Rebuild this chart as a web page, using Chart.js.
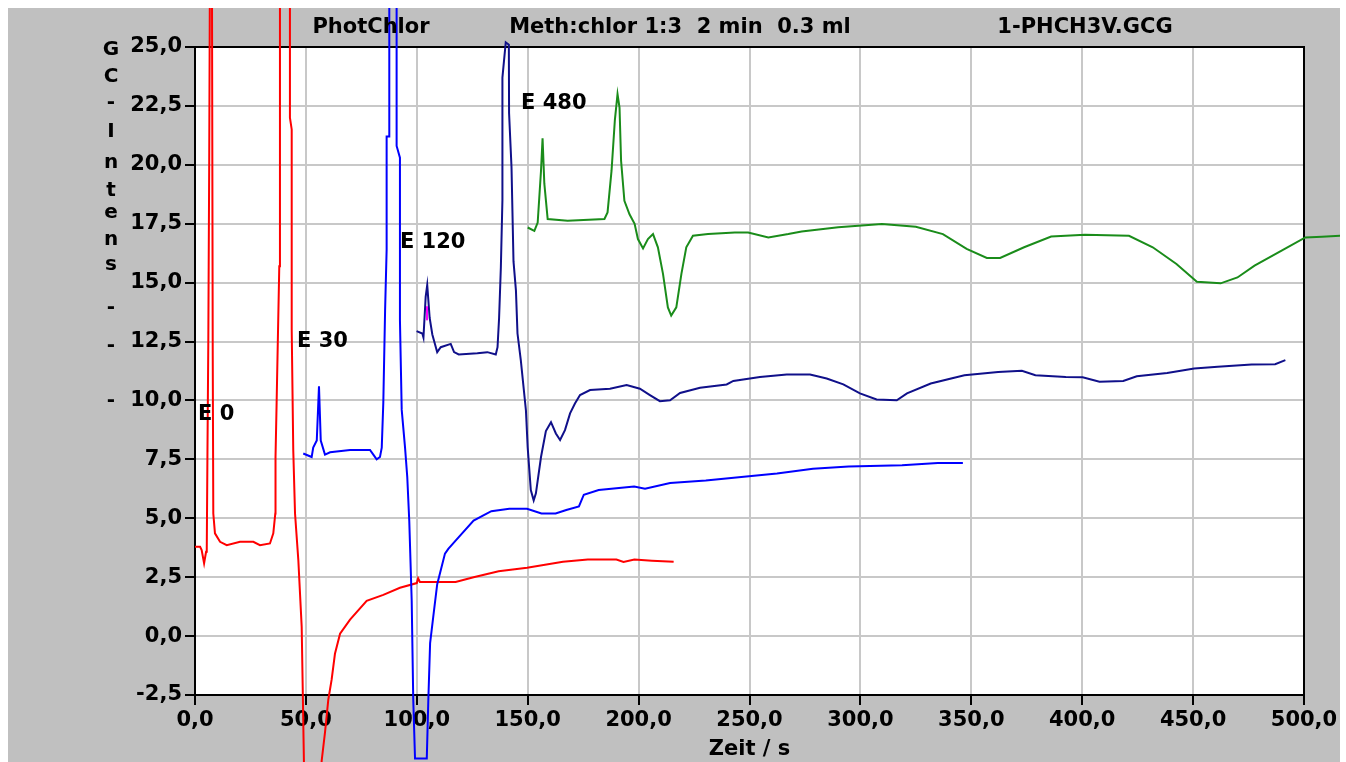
<!DOCTYPE html>
<html lang="de">
<head>
  <meta charset="UTF-8">
  <title>PhotChlor GC</title>
  <style>
    body { margin: 0; background: #fff; }
    canvas { display: block; }
  </style>
</head>
<body>
<canvas id="gcChart" width="1346" height="762"></canvas>

<script src="https://cdn.jsdelivr.net/npm/chart.js"></script>
<script>
  // curves as [zeit, intensitaet]
  const e0 = [
    [0, 3.79], [2.3, 3.79], [3, 3.65], [4.1, 3.09], [5, 3.58], [5.3, 3.6], [5.6, 7.6], [6.0, 12.5],
    [6.4, 20], [6.8, 30], [7.6, 30], [8.0, 11.9], [8.25, 5.2], [9, 4.36], [11.3, 4.0], [14.3, 3.86],
    [20.3, 4.0], [26.3, 4.0], [29.3, 3.86], [33.8, 3.93], [35.3, 4.36], [36.2, 5.2], [36.3, 7.6],
    [36.8, 9.9], [38, 15.7], [38.3, 30], [42.8, 30], [42.8, 22.0], [43.6, 21.5], [43.6, 13.0],
    [44.3, 7.9], [45.1, 5.2], [46.6, 3.2], [48.1, 0.4], [48.6, -2.4], [49.4, -7], [50, -9],
    [56.5, -9], [57.1, -5.3], [58.6, -4.1], [60.1, -2.7], [61.6, -1.85], [63.1, -0.75], [65.4, 0.1],
    [69.9, 0.7], [77.4, 1.5], [84.9, 1.75], [92.4, 2.05], [100, 2.25], [100.6, 2.45], [101.4, 2.3],
    [117.5, 2.3], [125.6, 2.5], [136.9, 2.75], [149.7, 2.9], [165.9, 3.15], [177.1, 3.25],
    [190, 3.25], [193.2, 3.15], [198.1, 3.25], [206, 3.2], [215.8, 3.15]
  ];
  const e30 = [
    [48.8, 7.75], [52.6, 7.6], [53.3, 8.0], [54.9, 8.3], [55.9, 10.6], [56.7, 8.3], [58.6, 7.7],
    [60.9, 7.8], [69.9, 7.9], [78.9, 7.9], [80.4, 7.7], [81.9, 7.5], [83.4, 7.6], [84.2, 8.0],
    [84.9, 9.9], [85.7, 13.8], [86.4, 16.4], [86.4, 21.2], [87.6, 21.2], [87.6, 30], [90.9, 30],
    [90.9, 20.8], [92.4, 20.3], [92.4, 13.4], [93.2, 9.6], [94.7, 8.0], [95.7, 6.75], [96.6, 4.9],
    [97.7, 1.5], [98.4, -2.7], [99.2, -5.2], [104.5, -5.2], [105.2, -2.7], [106, -0.3], [107.4, 0.8],
    [109.2, 2.2], [112.7, 3.5], [114.2, 3.7], [117.5, 4.05], [125.6, 4.9], [133.6, 5.3], [141.7, 5.4],
    [149.7, 5.4], [156.2, 5.2], [162.6, 5.2], [167.4, 5.35], [173.1, 5.5], [175.3, 6.0], [182, 6.2],
    [198, 6.35], [202.9, 6.25], [214.2, 6.5], [230.3, 6.6], [246.3, 6.75], [262.4, 6.9],
    [278.6, 7.1], [294.7, 7.2], [318.8, 7.25], [334.9, 7.35], [346.2, 7.35]
  ];
  const e120 = [
    [99.9, 12.94], [102.5, 12.84], [103, 12.67], [104, 14.4], [104.7, 14.9], [105.8, 13.5], [107, 12.8],
    [109.2, 12.05], [110.8, 12.26], [115.3, 12.4], [116.8, 12.05], [118.9, 11.95], [127.3, 12.0],
    [131.8, 12.05], [135.6, 11.95], [136.4, 12.26], [137.1, 13.5], [137.9, 15.65], [138.6, 18.5],
    [138.6, 23.7], [140.1, 25.2], [141.5, 25.1], [141.6, 22.2], [142.7, 19.9], [143.6, 15.9],
    [144.7, 14.66], [145.4, 12.84], [146.9, 11.7], [149.2, 9.58], [150, 8.0], [151.4, 6.2],
    [152.7, 5.76], [153.7, 6.06], [156, 7.6], [158.2, 8.7], [160.5, 9.08], [162.7, 8.6], [164.6, 8.32],
    [166.8, 8.74], [169.1, 9.45], [171.3, 9.87], [173.6, 10.23], [178.1, 10.44], [187.1, 10.5],
    [194.6, 10.65], [200.6, 10.5], [205.1, 10.23], [209.6, 9.97], [214.2, 10.01], [218.7, 10.32],
    [227.7, 10.54], [239.7, 10.68], [242.7, 10.83], [254.7, 11.0], [266.8, 11.1], [277.3, 11.1],
    [284.8, 10.93], [292.3, 10.68], [299.8, 10.3], [307.3, 10.04], [316.4, 10.01], [321, 10.3],
    [331.7, 10.72], [346.9, 11.07], [362.1, 11.21], [372.8, 11.26], [378.9, 11.07], [392.6, 11.0],
    [400.2, 10.98], [407.8, 10.79], [418.5, 10.83], [424.6, 11.03], [438.3, 11.17], [450.5, 11.36],
    [461.1, 11.43], [476.4, 11.53], [487, 11.54], [491.6, 11.71]
  ];
  const e480 = [
    [150, 17.34], [153, 17.2], [154.5, 17.55], [156, 19.75], [156.7, 21.13], [157.5, 19.2], [159, 17.7],
    [168, 17.63], [184.6, 17.7], [186, 17.98], [187.8, 19.75], [189.3, 21.9], [190.5, 23.0],
    [191.4, 22.43], [192.1, 20.17], [193.6, 18.47], [195.9, 17.9], [198.2, 17.5], [199.7, 16.85],
    [202, 16.45], [204.2, 16.85], [206.5, 17.06], [208.7, 16.5], [211, 15.37], [213.2, 13.95],
    [214.7, 13.6], [217, 13.95], [219.3, 15.37], [221.5, 16.5], [224.5, 16.99], [231.3, 17.06],
    [243.4, 17.13], [249.4, 17.13], [258.5, 16.92], [267.5, 17.06], [273.5, 17.17], [290, 17.35],
    [309.7, 17.49], [325, 17.37], [337.2, 17.06], [347.9, 16.43], [357, 16.05], [363, 16.05],
    [373.8, 16.5], [386, 16.96], [401.2, 17.03], [421.1, 16.99], [431.8, 16.5], [442.5, 15.79],
    [451.7, 15.04], [462.4, 14.97], [470, 15.22], [477.7, 15.72], [489.9, 16.36], [500.6, 16.92],
    [508.1, 16.95], [517.3, 16.99]
  ];
  const mark = [[104.6, 13.4], [104.6, 14.0]];

  const curveNames = ['E 0', 'E 30', 'E 120', 'E 480'];
  const curveLabelX = [1.35, 46, 92.4, 147];
  const curveLabelY = [9.4, 12.5, 16.7, 22.6];

  const headTexts = ['PhotChlor', 'Meth:chlor 1:3  2 min  0.3 ml', '1-PHCH3V.GCG'];
  const headCenters = [371, 680, 1085];

  const yTitleChars = ['G', 'C', '-', 'I', 'n', 't', 'e', 'n', 's', '-', '-', '-'];
  const yTitleBase = [55, 82, 108, 137, 168, 196, 218, 245, 270, 313, 351, 406];

  const FONT = '"DejaVu Sans", sans-serif';
  const fmt = v => Number(v).toFixed(1).replace('.', ',');
  const pts = arr => arr.map(([x, y]) => ({ x, y }));

  const clipBox = { left: 187, top: 39, right: 36, bottom: 67 };

  const decor = {
    id: 'decor',
    beforeDraw(c) {
      const ctx = c.ctx, a = c.chartArea;
      ctx.save();
      ctx.fillStyle = '#fff';
      ctx.fillRect(0, 0, c.width, c.height);
      ctx.fillStyle = '#c0c0c0';
      ctx.fillRect(8, 8, 1332, 754);
      ctx.fillStyle = '#fff';
      ctx.fillRect(a.left, a.top, a.right - a.left, a.bottom - a.top);
      ctx.restore();
    },
    beforeDatasetsDraw(c) {
      const ctx = c.ctx, a = c.chartArea;
      ctx.save();
      ctx.strokeStyle = '#000';
      ctx.lineWidth = 2;
      ctx.strokeRect(a.left, a.top, a.right - a.left, a.bottom - a.top);
      ctx.restore();
    },
    afterDraw(c) {
      const ctx = c.ctx;
      ctx.save();
      ctx.fillStyle = '#000';
      ctx.font = 'bold 21px ' + FONT;
      ctx.textBaseline = 'middle';
      ctx.textAlign = 'center';
      headTexts.forEach((t, i) => ctx.fillText(t, headCenters[i], 28));

      ctx.font = 'bold 20px ' + FONT;
      ctx.textBaseline = 'alphabetic';
      yTitleChars.forEach((t, i) => ctx.fillText(t, 111, yTitleBase[i]));

      ctx.font = 'bold 21px ' + FONT;
      ctx.textBaseline = 'middle';
      ctx.textAlign = 'left';
      const xs = c.scales.x, ys = c.scales.y;
      curveNames.forEach((t, i) => {
        ctx.fillText(t, xs.getPixelForValue(curveLabelX[i]), ys.getPixelForValue(curveLabelY[i]));
      });
      ctx.restore();
    }
  };

  const tickFont = { family: FONT, weight: 'bold', size: 21 };
  const gridOpts = { color: '#c8c8c8', lineWidth: 2, tickColor: '#000', tickWidth: 2, tickLength: 10 };

  new Chart(document.getElementById('gcChart'), {
    type: 'line',
    data: {
      datasets: [
        { label: 'mark', data: pts(mark), borderColor: '#ff00ff', clip: clipBox },
        { label: 'E 480', data: pts(e480), borderColor: '#1a8c1a', clip: clipBox },
        { label: 'E 120', data: pts(e120), borderColor: '#10108a', clip: clipBox },
        { label: 'E 30', data: pts(e30), borderColor: '#0000ff', clip: clipBox },
        { label: 'E 0', data: pts(e0), borderColor: '#ff0000', clip: clipBox }
      ]
    },
    options: {
      responsive: false,
      animation: false,
      layout: { padding: { top: 47, right: 42, left: 0, bottom: 0 } },
      elements: { point: { radius: 0 }, line: { borderWidth: 2, tension: 0 } },
      plugins: { legend: { display: false }, tooltip: { enabled: false } },
      scales: {
        x: {
          type: 'linear',
          afterDataLimits(s) { s.min = 0; s.max = 500; },
          afterFit(s) { s.height = 67; },
          border: { display: false },
          grid: gridOpts,
          ticks: { stepSize: 50, maxRotation: 0, autoSkip: false, color: '#000', font: tickFont, padding: 3, callback: fmt },
          title: { display: true, text: 'Zeit / s', color: '#000', font: tickFont, padding: { top: 0, bottom: 0 } }
        },
        y: {
          min: -2.5,
          max: 25,
          afterFit(s) { s.width = 195; },
          border: { display: false },
          grid: gridOpts,
          ticks: { stepSize: 2.5, autoSkip: false, color: '#000', font: tickFont, padding: 3, callback: fmt }
        }
      }
    },
    plugins: [decor]
  });
</script>
</body>
</html>
